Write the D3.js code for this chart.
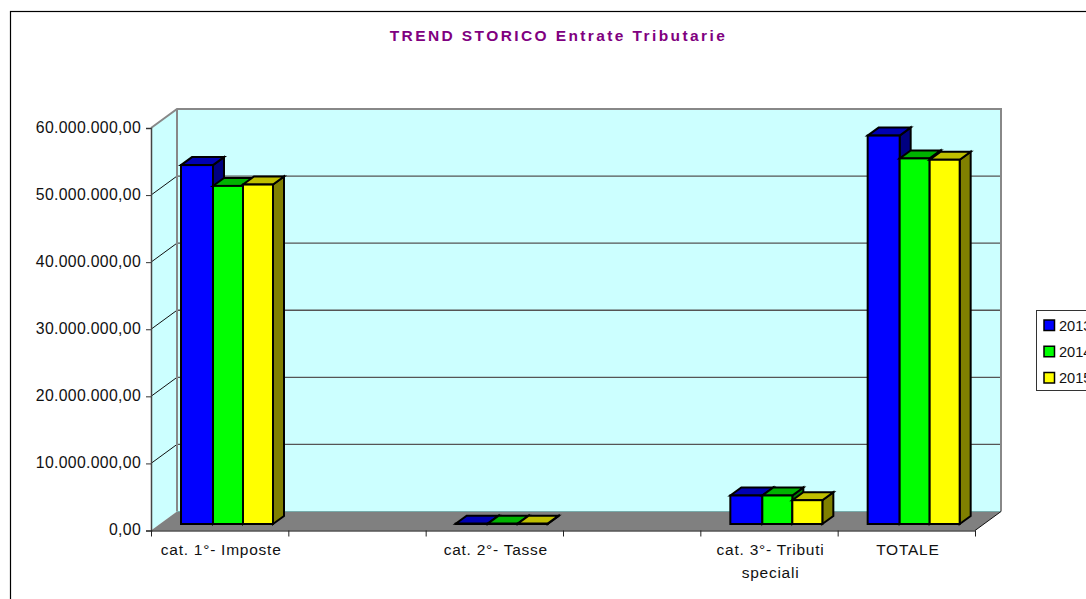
<!DOCTYPE html>
<html>
<head>
<meta charset="utf-8">
<script src="https://cdn.jsdelivr.net/npm/d3@7"></script>
<style>
html,body{margin:0;padding:0;background:#fff;overflow:hidden}
svg{display:block}
text{font-family:"Liberation Sans",Arial,sans-serif;fill:#111}
</style>
</head>
<body>
<svg id="c" width="1086" height="599"></svg>
<script>
const title = "TREND STORICO Entrate Tributarie";
const categories = ["cat. 1°- Imposte", "", "cat. 2°- Tasse", "", "cat. 3°- Tributi speciali", "TOTALE"];
const seriesNames = ["2013", "2014", "2015"];
const values2013 = [53500000, null, 50000, null, 4250000, 57900000];
const values2014 = [50400000, null, 50000, null, 4250000, 54500000];
const values2015 = [50600000, null, 50000, null, 3550000, 54300000];
const seriesValues = [values2013, values2014, values2015];
const frontColors = ["#0000ff", "#00ff00", "#ffff00"];
const topColors = ["#0000b3", "#00b300", "#bfbf00"];
const sideColors = ["#000080", "#008000", "#808000"];
const yTicks = [0, 10000000, 20000000, 30000000, 40000000, 50000000, 60000000];

const svg = d3.select("#c");
const depth = {x: 26, y: -19};
const barDepth = {x: 11, y: -8};
const barBase = {x: 30, y: -6};

const y = d3.scaleLinear().domain([0, 60000000]).range([530.5, 128]);
const xEdge = d3.scaleLinear().domain([0, categories.length]).range([151, 975]);
const xBand = d3.scaleBand().domain(d3.range(categories.length)).range([151, 975]);
const seriesOffset = d3.scaleOrdinal().domain(seriesNames).range([0, 32, 62]);
const seriesWidth = d3.scaleOrdinal().domain(seriesNames).range([32, 30, 30]);
const it = d3.formatLocale({decimal: ",", thousands: ".", grouping: [3], currency: ["", "€"]});
const fmt = it.format(",.2f");
const poly = pts => pts.map(p => p.join(",")).join(" ");

// outer frame (runs off the page on right and bottom)
svg.append("rect").attr("x", 10.5).attr("y", 11.5).attr("width", 1200).attr("height", 800)
  .attr("fill", "#fff").attr("stroke", "#000").attr("stroke-width", 1.2);

// title
svg.append("text").attr("x", 558.5).attr("y", 41).attr("text-anchor", "middle")
  .attr("font-size", 15.5).attr("font-weight", "bold").attr("letter-spacing", 2.4)
  .style("fill", "#800080").text(title);

const x0 = xEdge.range()[0], x1 = xEdge.range()[1], yb = y(0), yt = y(60000000);

// back wall
svg.append("rect").attr("x", x0 + depth.x).attr("y", yt + depth.y)
  .attr("width", x1 - x0).attr("height", yb - yt).attr("fill", "#ccffff");
// side wall
svg.append("polygon").attr("points", poly([[x0, yt], [x0 + depth.x, yt + depth.y], [x0 + depth.x, yb + depth.y], [x0, yb]]))
  .attr("fill", "#ccffff");
// floor
svg.append("polygon").attr("points", poly([[x0, yb], [x1, yb], [x1 + depth.x, yb + depth.y], [x0 + depth.x, yb + depth.y]]))
  .attr("fill", "#808080");

// gridlines
yTicks.slice(1, -1).forEach(t => {
  svg.append("line").attr("x1", x0 + depth.x).attr("x2", x1 + depth.x)
    .attr("y1", y(t) + depth.y).attr("y2", y(t) + depth.y)
    .attr("stroke", "#555").attr("stroke-width", 1.3);
  svg.append("line").attr("x1", x0).attr("x2", x0 + depth.x)
    .attr("y1", y(t)).attr("y2", y(t) + depth.y)
    .attr("stroke", "#111").attr("stroke-width", 1);
});
// wall outlines
svg.append("polyline").attr("fill", "none").attr("stroke", "#888").attr("stroke-width", 2)
  .attr("points", poly([[x0, yt], [x0 + depth.x, yt + depth.y], [x1 + depth.x, yt + depth.y], [x1 + depth.x, yb + depth.y]]));
svg.append("line").attr("x1", x0 + depth.x).attr("x2", x0 + depth.x)
  .attr("y1", yt + depth.y).attr("y2", yb + depth.y).attr("stroke", "#888").attr("stroke-width", 2);
svg.append("line").attr("x1", x0 + depth.x).attr("x2", x1 + depth.x)
  .attr("y1", yb + depth.y).attr("y2", yb + depth.y).attr("stroke", "#7aa").attr("stroke-width", 1);
svg.append("line").attr("x1", x1).attr("x2", x1 + depth.x)
  .attr("y1", yb).attr("y2", yb + depth.y).attr("stroke", "#111").attr("stroke-width", 1);

// bars
const bars = svg.append("g").attr("stroke", "#000").attr("stroke-width", 2).attr("stroke-linejoin", "miter");
categories.forEach((c, i) => {
  seriesNames.forEach((s, k) => {
    const v = seriesValues[k][i];
    if (v === null) return;
    const l = xBand(i) + barBase.x + seriesOffset(s);
    const r = l + seriesWidth(s);
    const b = yb + barBase.y - 0.5;
    const t = y(v) + barBase.y - 0.5;
    bars.append("polygon").attr("fill", sideColors[k])
      .attr("points", poly([[r, b], [r + barDepth.x, b + barDepth.y], [r + barDepth.x, t + barDepth.y], [r, t]]));
    bars.append("polygon").attr("fill", topColors[k])
      .attr("points", poly([[l, t], [r, t], [r + barDepth.x, t + barDepth.y], [l + barDepth.x, t + barDepth.y]]));
    bars.append("rect").attr("x", l).attr("y", t).attr("width", r - l).attr("height", b - t)
      .attr("fill", frontColors[k]);
  });
});

// axes
const yAxis = svg.append("g").attr("transform", `translate(${x0},0)`)
  .call(d3.axisLeft(y).tickValues(yTicks).tickSize(5).tickPadding(5).tickFormat(fmt));
yAxis.select(".domain").attr("stroke", "#444").attr("stroke-width", 1.5);
yAxis.selectAll(".tick line").attr("stroke", "#333");
yAxis.selectAll("text").attr("font-size", 15.8).attr("letter-spacing", 0.32).attr("font-family", null).attr("dy", "0.27em").style("fill", "#111");

const xAxis = svg.append("g").attr("transform", `translate(0,${yb})`)
  .call(d3.axisBottom(xEdge).ticks(categories.length).tickSize(6).tickSizeOuter(0).tickFormat(""));
xAxis.select(".domain").attr("stroke", "#000").attr("stroke-width", 1.2);
xAxis.selectAll(".tick line").attr("stroke", "#222");

// category labels, wrapped to the slot width
const labels = svg.append("g");
categories.forEach((c, i) => {
  if (!c) return;
  const cx = xBand(i) + xBand.bandwidth() / 2 + 1.5;
  const t = labels.append("text").attr("text-anchor", "middle").attr("font-size", 15.5)
    .attr("letter-spacing", 0.75);
  const words = c.split(" ");
  let line = [], row = 0;
  let ts = t.append("tspan").attr("x", cx).attr("y", 555);
  words.forEach(w => {
    line.push(w);
    ts.text(line.join(" "));
    if (ts.node().getComputedTextLength() > 125 && line.length > 1) {
      line.pop();
      ts.text(line.join(" "));
      line = [w];
      row += 1;
      ts = t.append("tspan").attr("x", cx).attr("y", 555 + row * 23).text(w);
    }
  });
});

// legend (clipped by page edge as in the source)
svg.append("rect").attr("x", 1036.5).attr("y", 310.5).attr("width", 120).attr("height", 80)
  .attr("fill", "#fff").attr("stroke", "#333").attr("stroke-width", 1);
const legendY = d3.scalePoint().domain(seriesNames).range([325.5, 378]);
seriesNames.forEach((s, k) => {
  svg.append("rect").attr("x", 1044).attr("y", legendY(s) - 5.5).attr("width", 10.5).attr("height", 10.5)
    .attr("fill", frontColors[k]).attr("stroke", "#000").attr("stroke-width", 1.5);
  svg.append("text").attr("x", 1059).attr("y", legendY(s) + 5).attr("font-size", 14.6).text(s);
});
</script>
</body>
</html>
